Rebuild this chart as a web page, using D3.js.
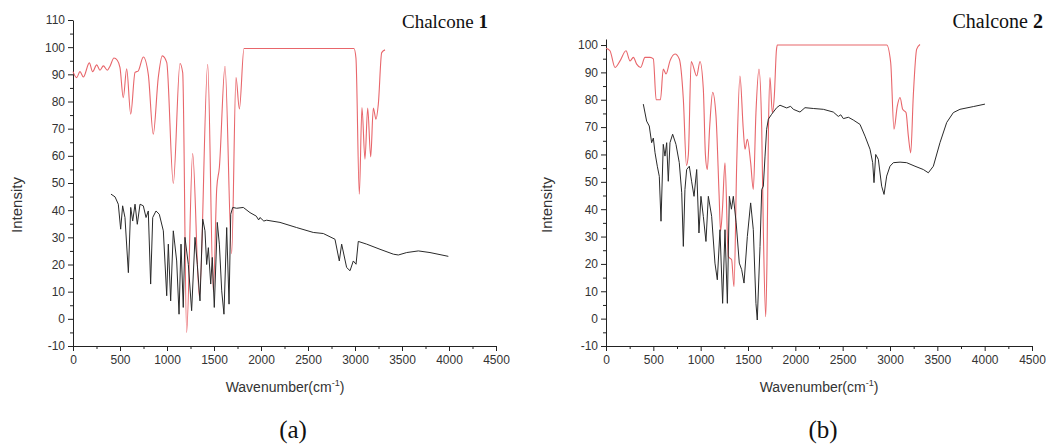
<!DOCTYPE html>
<html>
<head>
<meta charset="utf-8">
<script src="https://cdn.jsdelivr.net/npm/d3@7"></script>
<style>
  body { margin: 0; background: #fff; }
  svg text { font-family: "Liberation Sans", Arial, sans-serif; }
  .tick text { fill: #333; font-size: 12px; }
  .domain, .tick line { stroke: #222; }
</style>
</head>
<body>
<svg id="chart" width="1046" height="444"></svg>
<script>
// Tick labels
const xTickValues = [0, 500, 1000, 1500, 2000, 2500, 3000, 3500, 4000, 4500];
const xMinorTicks = [250, 750, 1250, 1750, 2250, 2750, 3250, 3750, 4250];
const yTickValuesA = [-10, 0, 10, 20, 30, 40, 50, 60, 70, 80, 90, 100, 110];
const yMinorTicksA = [-5, 5, 15, 25, 35, 45, 55, 65, 75, 85, 95, 105];
const yTickValuesB = [-10, 0, 10, 20, 30, 40, 50, 60, 70, 80, 90, 100];
const yMinorTicksB = [-5, 5, 15, 25, 35, 45, 55, 65, 75, 85, 95];

// Chalcone 1 - calculated spectrum (red), [wavenumber, intensity]
const chalcone1Calc = [
  [0,91],[39,88.8],[74,91],[110,89],[174,94.2],[209,91],[252,93.5],[287,91.5],[323,93.1],
  [365,91.5],[394,93],[436,96],[471,95.2],[500,92.5],[535,81.4],[571,92],[614,75.3],[660,90.7],
  [695,91.3],[748,96.4],[801,90],[854,68],[907,88.8],[950,96.8],[997,94.4],[1067,49.8],
  [1138,94],[1167,90.6],[1209,-5],[1273,60.8],[1345,8],[1433,93.7],[1493,10],[1529,48],
  [1557,55.7],[1617,93],[1688,24],[1734,88.8],[1770,77.3],[1819,99.5],[2989,99.5],[3010,96],
  [3046,45.9],[3074,77.8],[3106,58.8],[3135,77.6],[3167,59.6],[3195,77.6],[3223,73.5],
  [3248,79],[3284,98],[3319,99]
];

// Chalcone 1 - experimental spectrum (black)
const chalcone1Exp = [
  [404,45.9],[447,44.9],[482,42.2],[507,33],[528,41.6],[553,37.3],[589,17],[614,41],[635,36],
  [660,42.2],[684,34.8],[713,42.2],[748,41.6],[777,37.3],[801,39.7],[826,12.8],[848,37.3],
  [883,39.7],[918,38.5],[961,32.4],[997,8.5],[1014,27.5],[1039,6.6],[1067,32.4],[1103,21.3],
  [1128,1.7],[1149,27.5],[1173,4.2],[1191,30],[1227,20],[1262,3],[1298,30],[1322,20.1],
  [1351,6.6],[1380,36.7],[1404,32.4],[1422,20],[1440,26.2],[1465,12.8],[1482,22.6],[1503,4.2],
  [1535,35.5],[1557,27.5],[1582,10.3],[1606,1.7],[1635,33.6],[1660,5.4],[1678,38.5],[1699,41],
  [1741,40.7],[1812,41],[1883,39.1],[1950,37.8],[1975,36.4],[1989,37.3],[2030,36],[2060,36.3],
  [2202,35.5],[2379,33.6],[2556,31.8],[2663,31.4],[2787,29.3],[2833,21.3],[2858,27.5],
  [2911,18.9],[2947,17.7],[2982,21.3],[3011,20.1],[3035,28.5],[3124,27.5],[3266,25.6],
  [3408,23.8],[3461,23.5],[3550,24.4],[3674,25],[3798,24.4],[3993,23]
];

// Chalcone 2 - calculated spectrum (red)
const chalcone2Calc = [
  [0,98.8],[42,97.9],[95,91.8],[148,94.2],[211,97.9],[254,94.2],[289,95.5],[324,93],[366,91.8],
  [412,95.5],[465,95.5],[500,94.9],[530,80],[575,80],[605,91.2],[634,89.4],[676,94.2],
  [729,96.7],[774,94.9],[817,80.2],[850,56],[870,60],[900,94],[958,88.7],[993,94],[1028,84],
  [1050,60],[1070,54.5],[1095,70],[1127,82.7],[1162,74],[1195,45],[1210,32],[1230,40],
  [1257,57],[1292,22.7],[1327,21.5],[1352,11.7],[1381,57],[1415,88.7],[1450,69.2],[1468,61.9],
  [1493,65.5],[1528,57],[1556,47.2],[1584,75.3],[1616,91.2],[1645,69.2],[1662,32.5],
  [1687,0.7],[1700,20],[1716,69.2],[1732,88.1],[1757,75.3],[1778,81.4],[1800,98],[1810,100],
  [2965,100],[3007,93.7],[3042,69.2],[3077,77.7],[3106,80.8],[3134,76.5],[3169,75.3],
  [3194,66.7],[3219,60.6],[3246,81.4],[3282,98.5],[3317,100.2]
];

// Chalcone 2 - experimental spectrum (black)
const chalcone2Exp = [
  [394,78.4],[429,72.2],[457,70.4],[482,64.3],[500,66],[518,60.6],[542,55.7],[563,52],
  [581,35.6],[605,63.7],[623,59.4],[641,64.3],[658,50.2],[676,64.3],[704,67.4],[739,63.7],
  [774,57],[800,46],[817,26.4],[834,47.2],[852,54.5],[880,55.7],[905,50],[930,44.7],
  [958,54.5],[982,31.3],[1003,44.7],[1028,37.4],[1056,28.2],[1081,44.7],[1116,37.4],
  [1151,20.3],[1176,14.2],[1204,32.5],[1232,5.6],[1257,32.5],[1282,5.6],[1303,44.7],
  [1325,40],[1345,44.7],[1375,35],[1408,20.3],[1433,17.9],[1458,13],[1493,30],[1528,42.3],
  [1556,32.5],[1584,5.6],[1598,-0.5],[1627,26.4],[1645,47.2],[1662,48.4],[1680,59.4],
  [1697,69.2],[1715,72.9],[1750,74.7],[1803,77.1],[1838,78],[1880,77.4],[1909,77],
  [1950,77.6],[1979,76.5],[2049,75.5],[2102,77.1],[2190,76.8],[2296,76.5],[2401,75.5],
  [2454,73.9],[2480,74.5],[2507,73.1],[2560,73.6],[2612,72.6],[2683,71],[2736,66.7],
  [2789,61.9],[2817,57],[2831,49.7],[2849,60],[2877,58.2],[2912,48.4],[2937,45.4],
  [2965,52.1],[3000,55.7],[3035,57],[3106,57.2],[3176,57],[3264,55.7],[3352,54.5],
  [3405,53.3],[3458,55.7],[3528,64.3],[3599,71.7],[3669,75.3],[3739,76.5],[3880,77.5],
  [4003,78.4]
];

const svg = d3.select("#chart");
const redColor = "#e8666b", blackColor = "#2a2a2a";
const plainNum = d => String(d);   // "-10" with a hyphen, "1000" without comma

function drawPanel(opts) {
  const x = d3.scaleLinear().domain([0, 4500]).range(opts.xRange);
  const y = d3.scaleLinear().domain(opts.yDomain).range([346, opts.yTop]);
  const g = svg.append("g");

  // minor ticks first, then major axes
  g.append("g")
    .attr("transform", `translate(0,346)`)
    .call(d3.axisBottom(x).tickValues(xMinorTicks).tickSize(3).tickFormat(""))
    .call(a => a.select(".domain").remove());
  g.append("g")
    .attr("transform", `translate(${opts.xRange[0]},0)`)
    .call(d3.axisLeft(y).tickValues(opts.yMinor).tickSize(3).tickFormat(""))
    .call(a => a.select(".domain").remove());

  g.append("g")
    .attr("transform", `translate(0,346)`)
    .call(d3.axisBottom(x).tickValues(xTickValues).tickFormat(plainNum)
      .tickSize(5).tickSizeOuter(0).tickPadding(4));
  g.append("g")
    .attr("transform", `translate(${opts.xRange[0]},0)`)
    .call(d3.axisLeft(y).tickValues(opts.yTicks).tickFormat(plainNum)
      .tickSize(5).tickSizeOuter(0).tickPadding(3));

  const redLine = d3.line().x(d => x(d[0])).y(d => y(d[1])).curve(d3.curveMonotoneX);
  const blackLine = d3.line().x(d => x(d[0])).y(d => y(d[1]));

  g.append("path").datum(opts.calc)
    .attr("d", redLine).attr("fill", "none")
    .attr("stroke", redColor).attr("stroke-width", 1.1);
  g.append("path").datum(opts.exp)
    .attr("d", blackLine).attr("fill", "none")
    .attr("stroke", blackColor).attr("stroke-width", 1);

  // axis titles
  g.append("text")
    .attr("transform", `translate(${opts.yLabelX},205) rotate(-90)`)
    .attr("text-anchor", "middle")
    .style("font-size", "15px").style("fill", "#333")
    .text("Intensity");

  const xl = g.append("text")
    .attr("x", opts.xLabelX).attr("y", 392)
    .attr("text-anchor", "middle")
    .style("font-size", "14px").style("fill", "#333");
  xl.append("tspan").text("Wavenumber(cm");
  xl.append("tspan").attr("dy", -6).style("font-size", "9px").text("-1");
  xl.append("tspan").attr("dy", 6).text(")");

  // panel title
  const t = g.append("text")
    .attr("x", opts.titleX).attr("y", 28)
    .attr("text-anchor", "end")
    .style("font-family", "'Liberation Serif', 'Times New Roman', serif")
    .style("font-size", opts.titleSize).style("fill", "#111");
  t.append("tspan").text("Chalcone ");
  t.append("tspan").style("font-weight", "bold").text(opts.num);

  g.append("text")
    .attr("x", opts.capX).attr("y", 438)
    .attr("text-anchor", "middle")
    .style("font-family", "'Liberation Serif', 'Times New Roman', serif")
    .style("font-size", "25px").style("fill", "#111")
    .text(opts.caption);
}

drawPanel({
  xRange: [73, 496], yDomain: [-10, 110], yTop: 20,
  yTicks: yTickValuesA, yMinor: yMinorTicksA,
  calc: chalcone1Calc, exp: chalcone1Exp,
  yLabelX: 22, xLabelX: 285, titleX: 488, titleSize: "19px", num: "1",
  capX: 293, caption: "(a)"
});

drawPanel({
  xRange: [606, 1032], yDomain: [-10, 102.2], yTop: 39,
  yTicks: yTickValuesB, yMinor: yMinorTicksB,
  calc: chalcone2Calc, exp: chalcone2Exp,
  yLabelX: 552, xLabelX: 819, titleX: 1043, titleSize: "20px", num: "2",
  capX: 823, caption: "(b)"
});
</script>
</body>
</html>
